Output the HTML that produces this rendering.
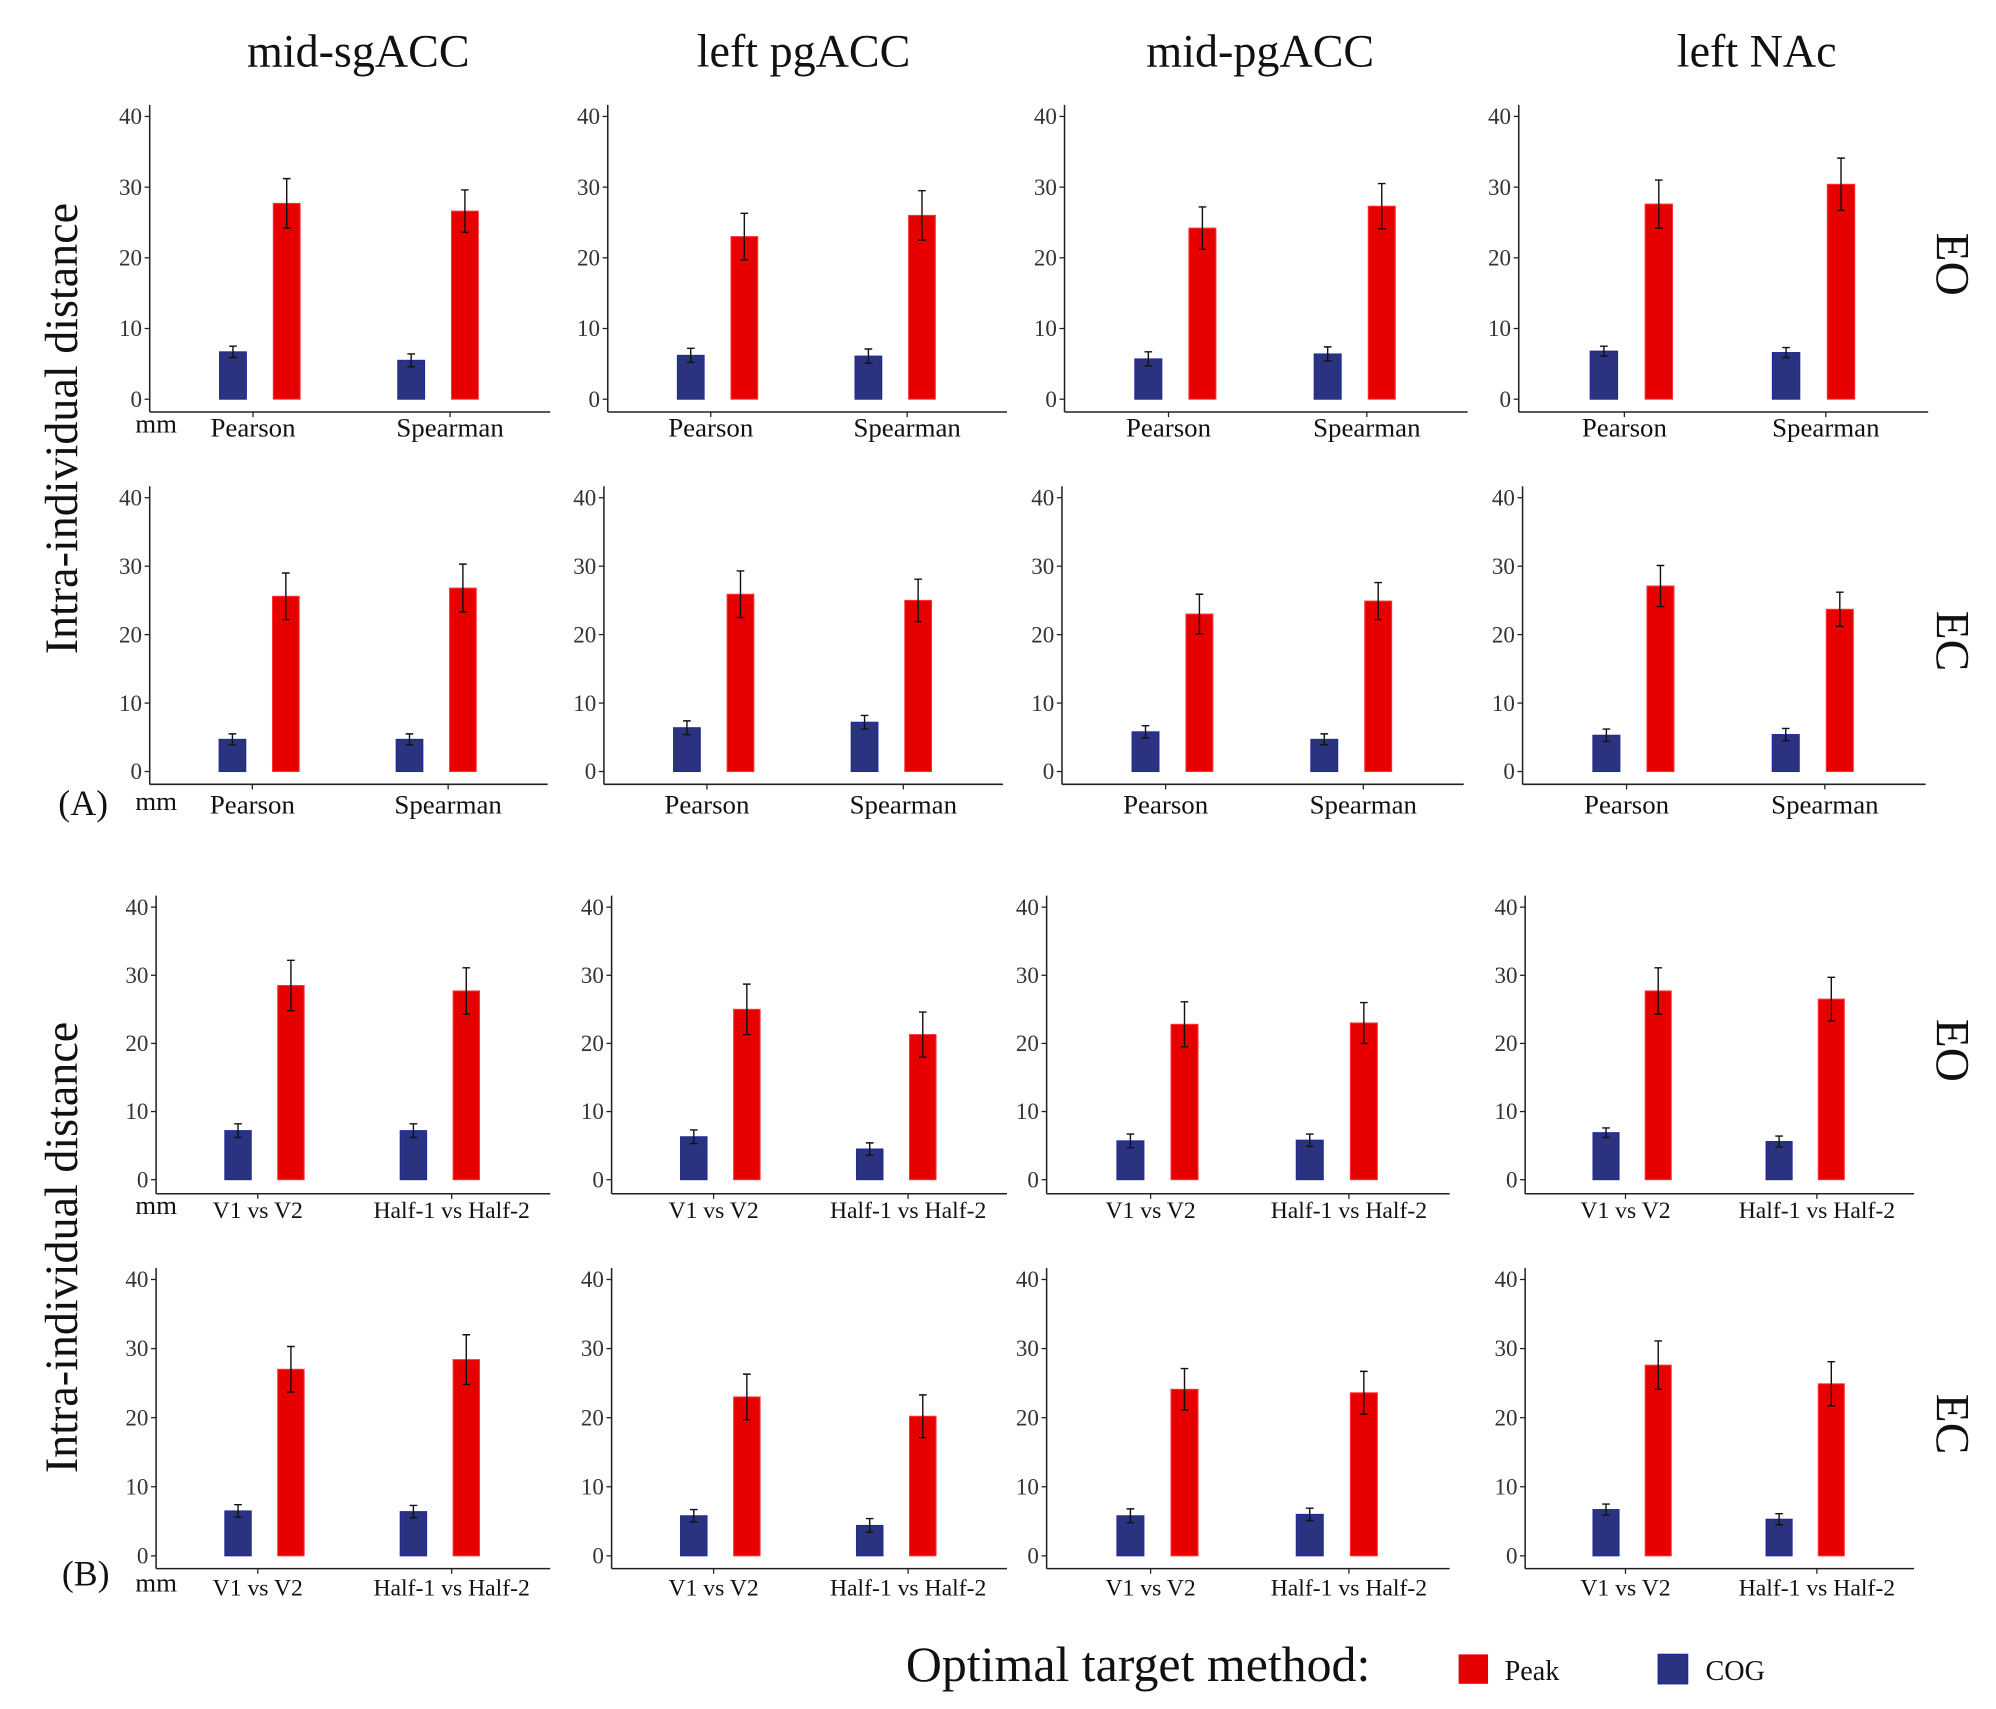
<!DOCTYPE html>
<html><head><meta charset="utf-8"><style>
body{margin:0;background:#fff}
svg{display:block;font-family:"Liberation Serif",serif}
</style></head><body>
<svg id="chart" width="1996" height="1709" viewBox="0 0 1560 1335.7" xmlns="http://www.w3.org/2000/svg"></svg>
<script>
const columns = ["mid-sgACC","left pgACC","mid-pgACC","left NAc"];
const rowConds = ["EO","EC","EO","EC"];
const groupsA = ["Pearson","Spearman"];
const groupsB = ["V1 vs V2","Half-1 vs Half-2"];
const yTicks = [0,10,20,30,40];
const cogVals = [
 [[6.7,5.5],[6.2,6.1],[5.7,6.4],[6.8,6.6]],
 [[4.7,4.7],[6.4,7.2],[5.8,4.7],[5.3,5.4]],
 [[7.2,7.2],[6.3,4.5],[5.7,5.8],[6.9,5.6]],
 [[6.5,6.4],[5.8,4.4],[5.8,6.0],[6.7,5.3]]
];
const cogErr = [
 [[0.8,0.9],[1,1],[1,1],[0.7,0.7]],
 [[0.8,0.8],[1,1],[0.9,0.8],[0.9,0.9]],
 [[1,1],[1,0.9],[1,0.9],[0.7,0.8]],
 [[0.9,0.9],[0.9,1],[1,0.9],[0.8,0.8]]
];
const peakVals = [
 [[27.7,26.6],[23,26],[24.2,27.3],[27.6,30.4]],
 [[25.6,26.8],[25.9,25],[23,24.9],[27.1,23.7]],
 [[28.5,27.7],[25,21.3],[22.8,23],[27.7,26.5]],
 [[27,28.4],[23,20.2],[24.1,23.6],[27.6,24.9]]
];
const peakErr = [
 [[3.5,3],[3.3,3.5],[3,3.2],[3.4,3.7]],
 [[3.4,3.5],[3.4,3.1],[2.9,2.7],[3,2.5]],
 [[3.7,3.4],[3.7,3.3],[3.3,3],[3.4,3.2]],
 [[3.3,3.6],[3.3,3.1],[3,3.1],[3.5,3.2]]
];

const NS="http://www.w3.org/2000/svg";
const svg=document.getElementById('chart');
function mk(tag,attrs,parent){const e=document.createElementNS(NS,tag);for(const k in attrs)e.setAttribute(k,attrs[k]);(parent||svg).appendChild(e);return e;}
function txt(s,attrs,parent){const e=mk('text',attrs,parent);e.textContent=s;return e;}

const rowY40=[91,389,709,1000], rowY0=[312,603,922,1216], rowAxis=[322,613,933,1226], rowLab=[341,636,952,1247];
const colAxisX=[[117,475,832,1187],[117,472,830,1190],[122,478,818,1192],[122,478,818,1192]];
const colEnd=[[430,787,1147,1507],[428,784,1144,1505],[430,787,1133,1496],[430,787,1133,1496]];

columns.forEach((c,i)=>{
  const t=txt(c,{x:[280,628,985,1373][i],y:52,'font-size':36,'text-anchor':'middle',fill:'#111'});
  
  
});

for(let r=0;r<4;r++){
  const groups = r<2?groupsA:groupsB;
  for(let c=0;c<4;c++){
    const g=mk('g',{});
    
    
    const x0=colAxisX[r][c], x1=colEnd[r][c];
    const y0=rowY0[r], y40=rowY40[r];
    const yS=v=>y0-(v/40)*(y0-y40);
    const xS=f=>x0+f*(x1-x0);
    mk('line',{x1:x0,y1:y40-9,x2:x0,y2:rowAxis[r],stroke:'#222','stroke-width':1.2},g);
    mk('line',{x1:x0,y1:rowAxis[r],x2:x1,y2:rowAxis[r],stroke:'#222','stroke-width':1.2},g);
    yTicks.forEach(v=>{
      mk('line',{x1:x0-4,y1:yS(v),x2:x0,y2:yS(v),stroke:'#222'},g);
      const t=txt(String(v),{x:x0-6,y:yS(v)+6,'font-size':18,'text-anchor':'end',fill:'#333'},g);
      
      
    });
    const fr=[0.275,0.72], lf=[0.258,0.75];
    groups.forEach((gn,k)=>{
      const cx=xS(fr[k]), lx=xS(lf[k]);
      mk('line',{x1:lx,y1:rowAxis[r],x2:lx,y2:rowAxis[r]+4,stroke:'#222'},g);
      const t=txt(gn,{x:lx,y:rowLab[r],'font-size':r<2?21:18.5,'text-anchor':'middle',fill:'#111'},g);
      
      
      const bw=(x1-x0)*0.067;
      const bars=[[cogVals[r][c][k],cogErr[r][c][k],'#2b3380','#1c2a9a',-21],[peakVals[r][c][k],peakErr[r][c][k],'#e60000','#f33',21]];
      bars.forEach((b,bi)=>{
        const bx=cx+b[4]*(x1-x0)/313;
        const rect=mk('rect',{x:bx-bw/2,y:yS(b[0]),width:bw,height:y0-yS(b[0]),fill:b[2],stroke:b[3],'stroke-width':0.8},g);
        
        
        const e=mk('path',{d:`M${bx-3},${yS(b[0]+b[1])}H${bx+3}M${bx},${yS(b[0]+b[1])}V${yS(b[0]-b[1])}M${bx-3},${yS(b[0]-b[1])}H${bx+3}`,stroke:'#111','stroke-width':1.1,fill:'none'},g);
        
        
      });
    });
  }
  const mm=txt('mm',{x:122,y:rowLab[r]-3,'font-size':21,'text-anchor':'middle',fill:'#111'});
  
  
  const cy=(rowY40[r]+rowAxis[r])/2;
  const st=txt(rowConds[r],{x:1522,y:cy,'font-size':37,'text-anchor':'middle',transform:`rotate(90 1522 ${cy})`,'dominant-baseline':'middle',fill:'#111'});
  
  
}
[[335,'y-axis-title-a'],[975,'y-axis-title-b']].forEach(([cy,n])=>{
  const t=txt('Intra-individual distance',{x:52,y:cy,'font-size':36,'text-anchor':'middle','dominant-baseline':'middle',transform:`rotate(-90 52 ${cy})`,fill:'#111'});
  
  
});
const pa=txt('(A)',{x:65,y:637,'font-size':28,'text-anchor':'middle',fill:'#111'});


const pb=txt('(B)',{x:67,y:1239,'font-size':28,'text-anchor':'middle',fill:'#111'});


const lt=txt('Optimal target method:',{x:708,y:1314,'font-size':39,fill:'#111'});


const l1=mk('rect',{x:1140,y:1293,width:23,height:23,fill:'#e60000'});


const l1t=txt('Peak',{x:1176,y:1313,'font-size':22,fill:'#111'});


const l2=mk('rect',{x:1296,y:1293,width:23,height:23,fill:'#2b3380',stroke:'#1c2a9a'});


const l2t=txt('COG',{x:1333,y:1313,'font-size':22,fill:'#111'});


</script>
</body></html>
